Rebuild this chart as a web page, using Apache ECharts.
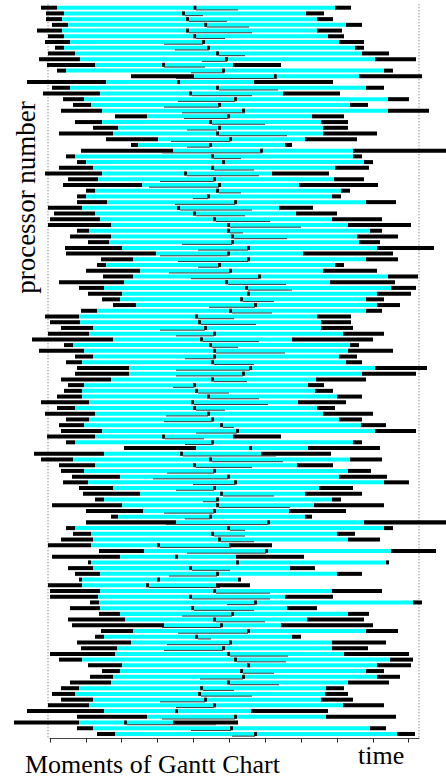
<!DOCTYPE html>
<html>
<head>
<meta charset="utf-8">
<script src="https://cdn.jsdelivr.net/npm/echarts@6/dist/echarts.min.js"></script>
<style>
html, body { margin: 0; padding: 0; background: #fff; }
#chart { width: 446px; height: 778px; }
</style>
</head>
<body>
<div id="chart"></div>
<script>
// one entry per processor (row 0 at the top); times in axis units
const blackStart = [
  -9, -4, -4, 2, -13, -2, -5, 5, -2, -11,
  -3, 7, 81, -23, 2, -7, 13, 23, 11, 65,
  25, 43, 9, 56, 81, 31, 16, 27, 9, -5,
  18, 13, 36, 27, 27, -2, 4, 0, -2, 27,
  20, 38, 15, 16, 51, 47, 36, 53, 9, 29,
  38, 52, 63, 31, -5, 0, 11, -2, -18, 14,
  -11, 25, 16, 27, 25, 11, 18, 14, 7, -9,
  7, -5, 16, 9, 11, -3, 16, 74, -16, -9,
  9, 11, 22, 13, 29, 33, 45, 2, 36, 61,
  36, 16, 23, 11, -2, 49, 2, 38, 18, 25,
  29, -2, 0, 0, 40, 20, 49, 18, 22, 51,
  45, 27, 31, 0, 9, 38, 52, 40, 20, 11,
  2, 11, -2, -23, 27, -36, 27, 47
];
const cyanStart = [
  7, 14, 12, 18, 12, 14, 20, 14, 25, 30,
  45, 16, 144, 56, 20, 50, 34, 41, 52, 97,
  52, 68, 63, 108, 88, 123, 25, 36, 43, 52,
  48, 92, 45, 36, 57, 32, 45, 50, 61, 39,
  61, 59, 72, 106, 83, 56, 90, 83, 74, 54,
  72, 70, 86, 47, 29, 30, 43, 39, 63, 23,
  34, 43, 32, 79, 79, 61, 34, 32, 32, 39,
  25, 45, 39, 34, 52, 45, 25, 146, 54, 23,
  45, 34, 70, 38, 63, 90, 54, 72, 93, 68,
  126, 25, 41, 43, 41, 94, 70, 41, 43, 50,
  32, 32, 50, 48, 49, 50, 70, 75, 114, 83,
  54, 81, 67, 65, 32, 72, 70, 63, 61, 29,
  25, 43, 39, 54, 97, 29, 43, 65
];
const midPoint = [
  145, 133.5, 137.5, 155.7, 137.5, 144.7, 153.5, 158.5, 167.5, 176.5,
  113.5, 173.5, 225.3, 128.5, 167.5, 140.5, 185.5, 169.5, 193.5, 178.5,
  160.5, 169.5, 167.5, 180.5, 160.5, 211.5, 162.5, 173.5, 162.5, 135.5,
  164.5, 169.5, 167.5, 158.5, 185.5, 128.5, 144.5, 164.5, 178.5, 178.5,
  182.5, 182.5, 198.5, 178.5, 198.5, 169.5, 180.5, 209.5, 176.5, 196.5,
  198.5, 191.5, 205.5, 180.5, 146.5, 149.5, 155.5, 164.5, 151.5, 160.5,
  164.5, 164.5, 162.5, 200.5, 193.5, 162.5, 144.5, 146.5, 158.5, 142.5,
  144.5, 158.5, 162.5, 171.5, 187.5, 113.5, 162.5, 200.5, 131.5, 160.5,
  144.5, 164.5, 178.5, 185.5, 164.5, 171.5, 167.5, 167.5, 164.5, 160.5,
  218.5, 178.5, 162.5, 169.5, 108.5, 216.5, 126.5, 187.5, 140.5, 167.5,
  108.5, 97.5, 164.5, 140.5, 205.5, 142.5, 182.5, 164.5, 171.5, 198.5,
  146.5, 180.5, 173.5, 178.5, 185.5, 198.5, 191.5, 193.5, 178.5, 151.5,
  149.5, 155.5, 164.5, 126.5, 185.5, 75.5, 181.5, 205.5
];
const cyanEnd = [
  285, 256, 267, 296, 267, 278, 289, 305, 312, 325,
  183, 334, 309, 204, 316, 233, 338, 300, 338, 262,
  271, 273, 273, 255, 235, 303, 303, 314, 285, 222,
  284, 249, 291, 282, 316, 229, 246, 282, 298, 320,
  307, 309, 327, 253, 316, 285, 273, 338, 280, 341,
  327, 316, 327, 316, 267, 271, 271, 293, 242, 300,
  298, 289, 296, 325, 312, 266, 258, 265, 287, 248,
  267, 273, 289, 311, 325, 183, 303, 258, 211, 300,
  247, 298, 289, 334, 269, 255, 282, 264, 239, 255,
  314, 334, 287, 298, 179, 341, 186, 336, 240, 287,
  188, 166, 282, 235, 363, 237, 298, 257, 231, 316,
  242, 282, 282, 294, 340, 327, 316, 327, 298, 276,
  275, 271, 293, 201, 276, 123, 320, 347
];
const blackEnd = [
  301, 274, 283, 312, 292, 294, 314, 314, 339, 366,
  231, 343, 372, 283, 334, 290, 359, 318, 379, 294,
  298, 298, 327, 307, 242, 396, 312, 323, 319, 279,
  314, 328, 300, 291, 346, 263, 287, 332, 361, 332,
  348, 330, 384, 343, 348, 294, 327, 368, 345, 366,
  361, 334, 350, 332, 301, 301, 303, 334, 323, 309,
  343, 307, 312, 377, 366, 316, 274, 283, 312, 296,
  285, 323, 312, 336, 366, 231, 312, 330, 281, 332,
  283, 321, 337, 359, 303, 312, 291, 334, 296, 262,
  396, 343, 305, 330, 222, 386, 254, 339, 265, 312,
  191, 200, 332, 283, 372, 267, 319, 314, 323, 348,
  251, 336, 318, 359, 363, 361, 334, 350, 339, 294,
  298, 303, 334, 278, 346, 188, 336, 365
];
// thin message lines under the bars (null = none)
const lineStart = [
  146, 135, 139, 157, 139, 146, 114, 125, 169, 152,
  114, 141, 126, null, 169, 142, 128, 114, 132, 134,
  162, 137, 169, 121, 137, 112, 164, null, 164, 137,
  110, 99, 169, 143, 125, 130, 146, 166, 180, 180,
  184, 132, 148, 110, 128, 148, 119, 141, 178, 198,
  null, 193, 159, 182, 148, 151, 110, 126, 153, 162,
  166, 135, 164, 126, 126, 164, 123, 148, 160, 144,
  146, 116, 114, 173, 146, 115, 135, null, 133, 162,
  146, 117, 103, 143, 126, 173, 153, 169, 114, 135,
  116, 180, 164, 171, 110, 137, null, null, 142, 119,
  null, 99, 166, 142, 177, 144, 132, 166, 112, 128,
  148, 117, 114, 180, 187, null, 193, 150, 180, 153,
  151, 110, 126, null, 112, 77, 141, 182
];
const lineEnd = [
  188, 153, 177, 199, 202, 175, 153, 159, 195, 177,
  155, 174, 227, null, 228, 202, 185, 169, 195, 178,
  215, 167, 237, 180, 160, 212, 191, null, 204, 209,
  164, 169, 191, 158, 185, 202, 195, 220, 251, 193,
  237, 182, 198, 178, 198, 169, 180, 209, 236, 242,
  null, 224, 205, 222, 184, 206, 155, 164, 209, 188,
  235, 165, 204, 200, 193, 197, 144, 179, 209, 218,
  175, 158, 162, 184, 187, 154, 163, null, 226, 233,
  202, 164, 178, 185, 164, 224, 167, 240, 164, 160,
  218, 195, 195, 204, 181, 216, null, null, 180, 167,
  null, 170, 220, 220, 205, 204, 182, 215, 171, 198,
  161, 180, 173, 238, 236, null, 224, 193, 229, 184,
  202, 155, 164, null, 185, 166, 181, 205
];
const tickValues = [0, 35.9, 71.7, 107.6, 143.5, 179.4, 215.2, 251.1, 287, 322.8, 358.7];
const guideLines = [-2, 369];

const rowCount = blackStart.length;
const ganttData = blackStart.map((v, i) => [
  i, v, cyanStart[i], midPoint[i], cyanEnd[i], blackEnd[i], lineStart[i], lineEnd[i]
]);

function renderRow(params, api) {
  const row = api.value(0);
  const yc = api.coord([0, row])[1];
  const h = api.size([0, 1])[1] * 0.7;
  const top = yc - h / 2;
  const px = v => api.coord([v, row])[0];
  const rect = (from, to, fill) => ({
    type: 'rect',
    shape: { x: px(from), y: top, width: px(to) - px(from), height: h },
    style: { fill: fill }
  });
  const mid = api.value(3);
  const children = [
    rect(api.value(1), api.value(2), '#000'),
    rect(api.value(2), api.value(4), '#00ffff'),
    rect(api.value(4), api.value(5), '#000'),
    rect(mid - 1.4, mid + 1.4, '#000')
  ];
  const g1 = api.value(6);
  const g2 = api.value(7);
  if (g1 != null && g2 != null && !isNaN(g1) && !isNaN(g2)) {
    children.push({
      type: 'line',
      shape: { x1: px(g1), y1: top + h + 0.2, x2: px(g2), y2: top + h + 0.2 },
      style: { stroke: '#3c3c3c', lineWidth: 1 }
    });
  }
  return { type: 'group', children: children };
}

function renderGuide(params, api) {
  const x = api.coord([api.value(0), 0])[0];
  const y0 = api.coord([0, -0.6])[1];
  const y1 = api.coord([0, rowCount - 0.4])[1];
  return {
    type: 'line',
    shape: { x1: x, y1: y0, x2: x, y2: y1 },
    style: { stroke: '#666', lineWidth: 1, lineDash: [1, 2] }
  };
}

const serif = '"Liberation Serif", "DejaVu Serif", serif';
const chart = echarts.init(document.getElementById('chart'), null, { renderer: 'svg' });
chart.setOption({
  backgroundColor: '#fff',
  animation: false,
  grid: { left: 50, top: 4.84, width: 369, height: 733.7 },
  xAxis: {
    type: 'value',
    position: 'bottom',
    min: 0,
    max: 369,
    axisLine: { show: true, onZero: false, lineStyle: { color: '#444', width: 1 } },
    axisTick: { show: true, length: 4, customValues: tickValues, lineStyle: { color: '#222' } },
    axisLabel: { show: false },
    splitLine: { show: false }
  },
  yAxis: {
    type: 'value',
    inverse: true,
    min: -0.5,
    max: 127.8,
    show: false
  },
  graphic: [
    {
      type: 'text', x: 25.5, y: 197.5, rotation: Math.PI / 2,
      style: { text: 'processor number', font: '27px ' + serif, fill: '#000',
        align: 'center', verticalAlign: 'middle', textAlign: 'center', textVerticalAlign: 'middle' }
    },
    {
      type: 'text', x: 25, y: 764.5,
      style: { text: 'Moments of Gantt Chart', font: '26px ' + serif, fill: '#000',
        align: 'left', verticalAlign: 'middle', textAlign: 'left', textVerticalAlign: 'middle' }
    },
    {
      type: 'text', x: 358, y: 755.2,
      style: { text: 'time', font: '26px ' + serif, fill: '#000',
        align: 'left', verticalAlign: 'middle', textAlign: 'left', textVerticalAlign: 'middle' }
    }
  ],
  series: [
    {
      type: 'custom',
      clip: false,
      silent: true,
      renderItem: renderGuide,
      encode: { x: 0 },
      data: guideLines.map(v => [v])
    },
    {
      type: 'custom',
      clip: false,
      silent: true,
      renderItem: renderRow,
      encode: { x: [1, 2, 3, 4, 5], y: 0 },
      data: ganttData
    }
  ]
});
</script>
</body>
</html>
